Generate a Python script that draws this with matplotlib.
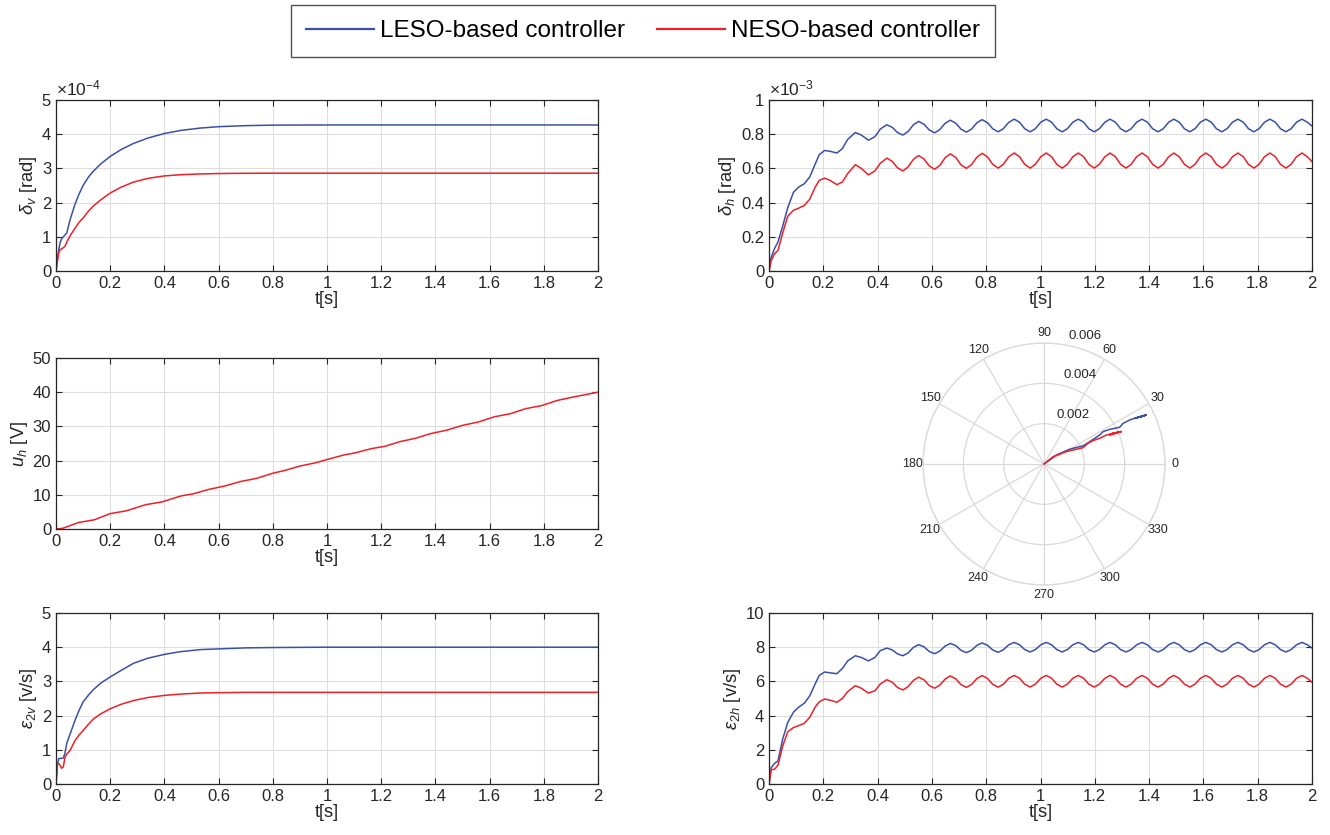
import numpy as np
import matplotlib.pyplot as plt
from matplotlib.ticker import FuncFormatter
from matplotlib.lines import Line2D

plt.rcParams['font.family'] = ['Liberation Sans', 'DejaVu Sans']
plt.rcParams['mathtext.fontset'] = 'custom'
plt.rcParams['mathtext.rm'] = 'Liberation Sans'
plt.rcParams['mathtext.it'] = 'Liberation Sans:italic'

# %% data
# vertical channel, no oscillation
t_v = [0, 0.005, 0.01, 0.015, 0.021, 0.027, 0.033, 0.04, 0.052, 0.07, 0.085, 0.1, 0.12, 0.138,
       0.165, 0.2, 0.24, 0.286, 0.34, 0.4, 0.46, 0.533, 0.6, 0.7, 0.8, 1.0, 1.5, 2.0]
delta_v_leso = [0, 0.35e-4, 0.62e-4, 0.82e-4, 0.95e-4, 1.0e-4, 1.05e-4, 1.12e-4, 1.5e-4, 1.95e-4,
                2.25e-4, 2.5e-4, 2.75e-4, 2.92e-4, 3.13e-4, 3.35e-4, 3.55e-4, 3.73e-4, 3.89e-4,
                4.02e-4, 4.11e-4, 4.18e-4, 4.22e-4, 4.25e-4, 4.265e-4, 4.27e-4, 4.27e-4, 4.27e-4]
delta_v_neso = [0, 0.28e-4, 0.52e-4, 0.62e-4, 0.65e-4, 0.68e-4, 0.72e-4, 0.85e-4, 1.03e-4, 1.25e-4,
                1.42e-4, 1.55e-4, 1.75e-4, 1.9e-4, 2.08e-4, 2.28e-4, 2.45e-4, 2.6e-4, 2.71e-4,
                2.78e-4, 2.815e-4, 2.838e-4, 2.85e-4, 2.857e-4, 2.86e-4, 2.86e-4, 2.86e-4, 2.86e-4]
eps_2v_leso = [0, 0.55, 0.74, 0.75, 0.75, 0.76, 0.9, 1.2, 1.46, 1.86, 2.15, 2.4, 2.6, 2.76, 2.95,
               3.13, 3.32, 3.53, 3.68, 3.79, 3.87, 3.93, 3.95, 3.98, 3.99, 4.0, 4.0, 4.0]
eps_2v_neso = [0, 0.59, 0.6, 0.55, 0.46, 0.5, 0.78, 0.88, 0.98, 1.27, 1.43, 1.56, 1.75, 1.9, 2.05,
               2.2, 2.33, 2.44, 2.53, 2.59, 2.63, 2.66, 2.67, 2.68, 2.68, 2.68, 2.68, 2.68]

# horizontal channel, oscillating
t_h = [0, 0.008, 0.02, 0.033, 0.05, 0.069, 0.09, 0.11, 0.13, 0.15, 0.17, 0.185, 0.205, 0.225,
       0.25, 0.27, 0.29, 0.318, 0.34, 0.366, 0.39, 0.41,
       0.434, 0.454, 0.473, 0.493, 0.512, 0.532,
       0.551, 0.571, 0.590, 0.610, 0.629, 0.649,
       0.668, 0.688, 0.707, 0.727, 0.746, 0.766,
       0.785, 0.805, 0.824, 0.844, 0.863, 0.883,
       0.903, 0.923, 0.942, 0.962, 0.981, 1.001,
       1.021, 1.041, 1.060, 1.080, 1.099, 1.119,
       1.139, 1.159, 1.178, 1.198, 1.217, 1.237,
       1.256, 1.276, 1.295, 1.315, 1.334, 1.354,
       1.374, 1.394, 1.413, 1.433, 1.452, 1.472,
       1.491, 1.511, 1.530, 1.550, 1.569, 1.589,
       1.609, 1.629, 1.648, 1.668, 1.687, 1.707,
       1.727, 1.747, 1.766, 1.786, 1.805, 1.825,
       1.845, 1.865, 1.884, 1.904, 1.923, 1.943,
       1.963, 1.983, 2.0]
# in units of 1e-3 rad
delta_h_leso = [0, 0.08, 0.13, 0.17, 0.26, 0.37, 0.46, 0.492, 0.51, 0.55, 0.625, 0.68, 0.705, 0.7,
                0.69, 0.715, 0.77, 0.81, 0.795, 0.765, 0.785, 0.83,
                0.855, 0.84, 0.81, 0.795, 0.815, 0.855,
                0.875, 0.858, 0.825, 0.808, 0.827, 0.864,
                0.882, 0.864, 0.83, 0.812, 0.83, 0.867,
                0.885, 0.867, 0.832, 0.814, 0.832, 0.869,
                0.888, 0.87, 0.832, 0.814, 0.832, 0.87,
                0.888, 0.87, 0.832, 0.814, 0.832, 0.87,
                0.888, 0.87, 0.832, 0.814, 0.832, 0.87,
                0.888, 0.87, 0.832, 0.814, 0.832, 0.87,
                0.888, 0.87, 0.832, 0.814, 0.832, 0.87,
                0.888, 0.87, 0.832, 0.814, 0.832, 0.87,
                0.888, 0.87, 0.832, 0.814, 0.832, 0.87,
                0.888, 0.87, 0.832, 0.814, 0.832, 0.87,
                0.888, 0.87, 0.832, 0.814, 0.832, 0.87,
                0.888, 0.87, 0.848]
delta_h_neso = [0, 0.06, 0.1, 0.12, 0.22, 0.32, 0.355, 0.368, 0.383, 0.42, 0.49, 0.53, 0.543, 0.53,
                0.505, 0.52, 0.57, 0.622, 0.6, 0.562, 0.585, 0.63,
                0.66, 0.641, 0.604, 0.585, 0.608, 0.653,
                0.675, 0.655, 0.615, 0.595, 0.617, 0.663,
                0.685, 0.664, 0.621, 0.6, 0.622, 0.666,
                0.688, 0.667, 0.624, 0.602, 0.624, 0.668,
                0.69, 0.668, 0.624, 0.602, 0.624, 0.668,
                0.69, 0.668, 0.624, 0.602, 0.624, 0.668,
                0.69, 0.668, 0.624, 0.602, 0.624, 0.668,
                0.69, 0.668, 0.624, 0.602, 0.624, 0.668,
                0.69, 0.668, 0.624, 0.602, 0.624, 0.668,
                0.69, 0.668, 0.624, 0.602, 0.624, 0.668,
                0.69, 0.668, 0.624, 0.602, 0.624, 0.668,
                0.69, 0.668, 0.624, 0.602, 0.624, 0.668,
                0.69, 0.668, 0.624, 0.602, 0.624, 0.668,
                0.69, 0.668, 0.64]
eps_2h_leso = [0, 0.95, 1.2, 1.35, 2.6, 3.6, 4.2, 4.5, 4.72, 5.15, 5.85, 6.35, 6.55, 6.5,
               6.45, 6.75, 7.2, 7.5, 7.4, 7.2, 7.4, 7.8,
               7.95, 7.84, 7.61, 7.5, 7.66, 7.99,
               8.15, 8.02, 7.75, 7.62, 7.77, 8.07,
               8.22, 8.09, 7.82, 7.68, 7.82, 8.11,
               8.25, 8.11, 7.84, 7.7, 7.85, 8.14,
               8.28, 8.14, 7.86, 7.72, 7.86, 8.14,
               8.28, 8.14, 7.86, 7.72, 7.86, 8.14,
               8.28, 8.14, 7.86, 7.72, 7.86, 8.14,
               8.28, 8.14, 7.86, 7.72, 7.86, 8.14,
               8.28, 8.14, 7.86, 7.72, 7.86, 8.14,
               8.28, 8.14, 7.86, 7.72, 7.86, 8.14,
               8.28, 8.14, 7.86, 7.72, 7.86, 8.14,
               8.28, 8.14, 7.86, 7.72, 7.86, 8.14,
               8.28, 8.14, 7.86, 7.72, 7.86, 8.14,
               8.28, 8.14, 7.95]
eps_2h_neso = [0, 0.85, 0.85, 1.1, 2.2, 3.05, 3.3, 3.42, 3.55, 3.9, 4.5, 4.8, 4.97, 4.9,
               4.78, 5.0, 5.4, 5.75, 5.6, 5.32, 5.45, 5.85,
               6.1, 5.95, 5.65, 5.5, 5.69, 6.06,
               6.25, 6.09, 5.76, 5.6, 5.78, 6.14,
               6.32, 6.15, 5.82, 5.65, 5.82, 6.17,
               6.34, 6.17, 5.83, 5.66, 5.83, 6.18,
               6.35, 6.18, 5.84, 5.67, 5.84, 6.18,
               6.35, 6.18, 5.84, 5.67, 5.84, 6.18,
               6.35, 6.18, 5.84, 5.67, 5.84, 6.18,
               6.35, 6.18, 5.84, 5.67, 5.84, 6.18,
               6.35, 6.18, 5.84, 5.67, 5.84, 6.18,
               6.35, 6.18, 5.84, 5.67, 5.84, 6.18,
               6.35, 6.18, 5.84, 5.67, 5.84, 6.18,
               6.35, 6.18, 5.84, 5.67, 5.84, 6.18,
               6.35, 6.18, 5.84, 5.67, 5.84, 6.18,
               6.35, 6.18, 5.95]

# control voltage (only NESO curve visible)
t_u = [0, 0.025, 0.083, 0.142, 0.2, 0.259, 0.33, 0.39, 0.463, 0.507, 0.565, 0.624, 0.682, 0.74,
       0.8, 0.843, 0.9, 0.96, 1.0, 1.06, 1.106, 1.164, 1.215, 1.267, 1.325, 1.383, 1.442, 1.5,
       1.559, 1.617, 1.676, 1.734, 1.793, 1.85, 1.909, 2.0]
u_h = [0, 0.2, 1.9, 2.7, 4.5, 5.3, 7.1, 7.9, 9.7, 10.3, 11.6, 12.6, 13.9, 14.8, 16.3, 17.1, 18.4,
       19.4, 20.3, 21.6, 22.3, 23.5, 24.2, 25.5, 26.5, 27.9, 28.9, 30.3, 31.3, 32.8, 33.7, 35.2,
       36.1, 37.6, 38.6, 40.0]

# polar trace (angle in degrees, radius)
theta_leso = [0, 36, 30, 25, 26, 27.5, 28.7, 27.8, 25.9, 27.2, 27.2, 26.6, 25.6, 26.7, 25.7, 26.5, 25.6]
r_leso = [0, 0.00076, 0.00147, 0.00213, 0.00252, 0.00311, 0.00334, 0.00368, 0.00417, 0.00441,
          0.00478, 0.00512, 0.00554, 0.00503, 0.00563, 0.00515, 0.0056]
theta_neso = [0, 39, 29, 22.7, 25.2, 25.5, 24.8, 24.9, 24.0, 22.7, 23.8, 22.9, 24.2, 23.0]
r_neso = [0, 0.00058, 0.00127, 0.0021, 0.00241, 0.00269, 0.00304, 0.00341, 0.00374, 0.00416,
          0.00356, 0.0041, 0.00365, 0.00412]

labels = ['LESO-based controller', 'NESO-based controller']
c_leso = '#3a50a8'
c_neso = '#ee1f26'
lw = 1.1
txt = '#262626'
fs = 12
fs_lab = 13.2

# %% figure
fig = plt.figure(figsize=(13.3, 8.35), dpi=100)
W, H = 1330, 835


def px_axes(x0, y0, x1, y1, **kw):
    return fig.add_axes([x0 / W, 1 - y1 / H, (x1 - x0) / W, (y1 - y0) / H], **kw)


def style(ax, ymax, ystep, ylabel, scale=1.0, expo=None):
    ax.set_xlim(0, 2)
    ax.set_xticks(np.arange(0, 2.001, 0.2))
    ax.set_ylim(0, ymax)
    ax.set_yticks(np.arange(0, ymax * 1.0001, ystep))
    ax.xaxis.set_major_formatter(FuncFormatter(lambda v, p: f'{v:g}'))
    ax.yaxis.set_major_formatter(FuncFormatter(lambda v, p: f'{v / scale:.3g}'))
    ax.grid(True, color='#dedede', lw=0.8)
    ax.set_axisbelow(True)
    ax.tick_params(direction='in', length=4, top=True, right=True, labelsize=fs,
                   colors=txt, width=0.8)
    for s in ax.spines.values():
        s.set_color(txt)
        s.set_linewidth(0.9)
    ax.set_xlabel('t[s]', fontsize=fs_lab, color=txt, labelpad=0)
    ax.set_ylabel(ylabel, fontsize=fs_lab, color=txt, labelpad=2)
    if expo is not None:
        ax.text(0.0, 1.008, '×10$^{%d}$' % expo, transform=ax.transAxes,
                fontsize=12.5, color=txt, va='bottom', ha='left')


ax1 = px_axes(56, 100, 598, 271)
ax1.plot(t_v, delta_v_leso, color=c_leso, lw=lw)
ax1.plot(t_v, delta_v_neso, color=c_neso, lw=lw)
style(ax1, 5e-4, 1e-4, r'$\delta_v$ [rad]', scale=1e-4, expo=-4)

ax2 = px_axes(769, 100, 1312, 271)
ax2.plot(t_h, np.array(delta_h_leso) * 1e-3, color=c_leso, lw=lw)
ax2.plot(t_h, np.array(delta_h_neso) * 1e-3, color=c_neso, lw=lw)
style(ax2, 1e-3, 0.2e-3, r'$\delta_h$ [rad]', scale=1e-3, expo=-3)

ax3 = px_axes(56, 358, 598, 529)
ax3.plot(t_u, u_h, color=c_neso, lw=lw)
style(ax3, 50, 10, r'$u_h$ [V]')

ax5 = px_axes(56, 613, 598, 784)
ax5.plot(t_v, eps_2v_leso, color=c_leso, lw=lw)
ax5.plot(t_v, eps_2v_neso, color=c_neso, lw=lw)
style(ax5, 5, 1, r'$\epsilon_{2v}$ [v/s]')

ax6 = px_axes(769, 613, 1312, 784)
ax6.plot(t_h, eps_2h_leso, color=c_leso, lw=lw)
ax6.plot(t_h, eps_2h_neso, color=c_neso, lw=lw)
style(ax6, 10, 2, r'$\epsilon_{2h}$ [v/s]')

# polar plot
axp = px_axes(1044 - 121, 464 - 121, 1044 + 121, 464 + 121, projection='polar')
axp.plot(np.deg2rad(theta_leso), r_leso, color=c_leso, lw=lw)
axp.plot(np.deg2rad(theta_neso), r_neso, color=c_neso, lw=lw)
axp.set_rlim(0, 0.006)
axp.set_rticks([0.002, 0.004, 0.006])
axp.set_yticklabels([])
axp.set_thetagrids(np.arange(0, 360, 30), [str(a) for a in range(0, 360, 30)],
                   fontsize=9, color=txt)
axp.tick_params(axis='x', pad=-3)
axp.grid(True, color='#d9d9d9', lw=0.9)
axp.spines['polar'].set_color('#d9d9d9')
axp.spines['polar'].set_linewidth(0.9)
for lab, ang, rr in [('0.002', 59, 0.00283), ('0.004', 68, 0.00476), ('0.006', 72, 0.00665)]:
    axp.text(np.deg2rad(ang), rr, lab, fontsize=9.5, color=txt, ha='center', va='center',
             clip_on=False)

# legend
handles = [Line2D([], [], color=c_leso, lw=1.6), Line2D([], [], color=c_neso, lw=1.6)]
leg = fig.legend(handles, labels, loc='upper center', bbox_to_anchor=(643 / W, 1 - 5 / H),
                 ncol=2, fontsize=17.5, frameon=True, fancybox=False, edgecolor=txt,
                 handlelength=2.8, handletextpad=0.25, columnspacing=1.3, borderpad=0.62,
                 borderaxespad=0)
leg.get_frame().set_linewidth(1.0)

fig.savefig('out.png', dpi=100, facecolor='white')
